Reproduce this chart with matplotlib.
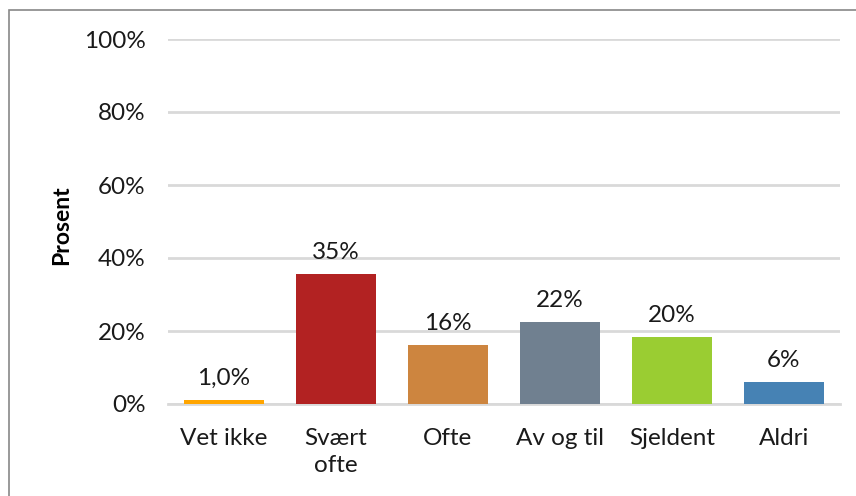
import matplotlib.pyplot as plt
from matplotlib.patches import Rectangle

# answer categories and shares (percent)
categories = ["Vet ikke", "Svært\nofte", "Ofte", "Av og til", "Sjeldent", "Aldri"]
values = [1.0, 35.6, 16.2, 22.5, 18.4, 6.0]
value_labels = ["1,0%", "35%", "16%", "22%", "20%", "6%"]
colors = ["#FFA500", "#B22222", "#CD853F", "#708090", "#9ACD32", "#4682B4"]
yticks = [0, 20, 40, 60, 80, 100]

plt.rcParams['font.family'] = ['Lato', 'DejaVu Sans']
FS = 17.5

fig = plt.figure(figsize=(8.56, 4.96), dpi=100)
ax = fig.add_axes([168/856, 1-404/496, 672/856, 365/496])

x = range(len(categories))
bars = ax.bar(x, values, width=0.72, color=colors, zorder=3)

for b, lab in zip(bars, value_labels):
    ax.annotate(lab, (b.get_x() + b.get_width()/2, b.get_height()),
                xytext=(0, 8), textcoords="offset points",
                ha="center", va="bottom", fontsize=FS, color="#1a1a1a")

ax.set_xlim(-0.5, len(categories) - 0.5)
ax.set_ylim(0, 100)
ax.set_yticks(yticks)
ax.set_yticklabels([f"{t}%" for t in yticks])
ax.set_xticks(list(x))
ax.set_xticklabels(categories, linespacing=1.4)
ax.tick_params(axis="y", length=0, pad=16, labelsize=FS, labelcolor="#1a1a1a")
ax.tick_params(axis="x", length=0, pad=17, labelsize=FS, labelcolor="#1a1a1a")

ax.yaxis.grid(True, color="#D9D9D9", linewidth=2, zorder=0)
for s in ["top", "right", "left"]:
    ax.spines[s].set_visible(False)
ax.spines["bottom"].set_color("#D9D9D9")
ax.spines["bottom"].set_linewidth(2)

fig.text(62/856, 1-225/496, "Prosent", rotation=90, ha="center", va="center",
         fontsize=16.5, fontweight="bold", color="black")

# chart frame
fig.patches.append(Rectangle((9/856, -0.1), 1.0, 1.1 - 10/496,
                             transform=fig.transFigure, fill=False,
                             edgecolor="#888888", linewidth=1.2))

fig.savefig("out.png", dpi=100)
